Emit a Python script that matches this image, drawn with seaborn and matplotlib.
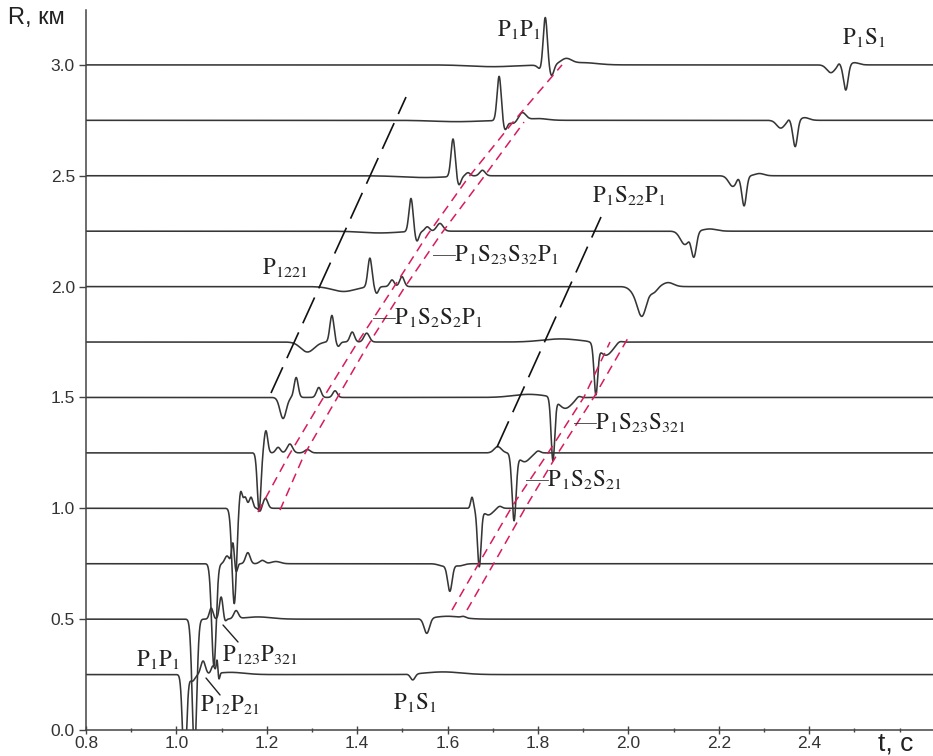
import numpy as np
import pandas as pd
import matplotlib
matplotlib.use("Agg")
import matplotlib.pyplot as plt
from matplotlib.ticker import MultipleLocator, FormatStrFormatter
import seaborn as sns

# ---- seismogram data -------------------------------------------------------
# receiver offsets R (km); each trace is drawn on its own baseline
offsets = [0.25, 0.50, 0.75, 1.00, 1.25, 1.50, 1.75, 2.00, 2.25, 2.50, 2.75, 3.00]

# wave arrivals on every trace: (time s, amplitude km, pulse half-width s)
tr_025 = [(1.018, -0.42, 0.0045), (1.035, -0.03, 0.006), (1.059, 0.06, 0.005),
          (1.081, 0.035, 0.004), (1.090, 0.06, 0.0018), (1.094, -0.03, 0.002),
          (1.12, 0.01, 0.03), (1.523, -0.027, 0.005), (1.59, 0.012, 0.04)]
tr_050 = [(1.040, -0.60, 0.005), (1.077, 0.05, 0.004), (1.099, 0.10, 0.004),
          (1.107, -0.015, 0.003), (1.132, 0.036, 0.005), (1.18, 0.01, 0.03),
          (1.554, -0.068, 0.006), (1.60, 0.013, 0.03), (1.635, 0.006, 0.005)]
tr_075 = [(1.083, -0.46, 0.005), (1.112, 0.035, 0.005), (1.125, 0.095, 0.003),
          (1.132, -0.04, 0.003), (1.158, 0.05, 0.005), (1.19, 0.015, 0.006),
          (1.22, 0.01, 0.01), (1.59, -0.01, 0.01), (1.605, -0.12, 0.005),
          (1.625, -0.01, 0.01)]
tr_100 = [(1.128, -0.43, 0.005), (1.142, 0.08, 0.0035), (1.152, 0.05, 0.004),
          (1.165, 0.05, 0.004), (1.185, -0.015, 0.003), (1.197, 0.045, 0.005),
          (1.654, 0.05, 0.003), (1.670, -0.26, 0.004), (1.69, -0.03, 0.01),
          (1.715, 0.01, 0.005)]
tr_125 = [(1.183, -0.26, 0.004), (1.198, 0.10, 0.004), (1.225, 0.025, 0.005),
          (1.251, 0.04, 0.006), (1.29, 0.015, 0.006), (1.711, 0.028, 0.008),
          (1.747, -0.30, 0.0045), (1.77, -0.04, 0.012), (1.80, 0.01, 0.005)]
tr_150 = [(1.236, -0.095, 0.007), (1.265, 0.09, 0.0045), (1.315, 0.045, 0.005),
          (1.351, 0.03, 0.005), (1.78, 0.014, 0.035), (1.833, -0.28, 0.004),
          (1.86, -0.05, 0.015), (1.89, 0.01, 0.005)]
tr_175 = [(1.29, -0.045, 0.015), (1.344, 0.12, 0.0045), (1.358, -0.02, 0.004),
          (1.389, 0.045, 0.005), (1.421, 0.04, 0.006), (1.85, 0.014, 0.04),
          (1.928, -0.22, 0.004), (1.95, -0.06, 0.015), (1.98, 0.008, 0.006)]
tr_200 = [(1.37, -0.022, 0.025), (1.428, 0.13, 0.0045), (1.443, -0.03, 0.004),
          (1.477, 0.03, 0.005), (1.499, 0.045, 0.005), (2.012, -0.02, 0.01),
          (2.030, -0.13, 0.010), (2.056, -0.025, 0.008), (2.088, 0.018, 0.012)]
tr_225 = [(1.45, -0.008, 0.04), (1.519, 0.15, 0.0045), (1.532, -0.045, 0.0045),
          (1.555, 0.02, 0.005), (1.583, 0.035, 0.007), (2.125, -0.06, 0.01),
          (2.135, 0.006, 0.003), (2.145, -0.11, 0.0055), (2.18, 0.01, 0.015)]
tr_250 = [(1.55, -0.008, 0.05), (1.612, 0.17, 0.0045), (1.625, -0.04, 0.0045),
          (1.645, 0.015, 0.005), (1.677, 0.025, 0.006), (2.231, -0.048, 0.009),
          (2.242, 0.008, 0.003), (2.256, -0.135, 0.005), (2.29, 0.01, 0.01)]
tr_275 = [(1.62, -0.006, 0.05), (1.714, 0.20, 0.0045), (1.727, -0.04, 0.0045),
          (1.745, -0.015, 0.01), (1.765, 0.035, 0.008), (1.80, 0.008, 0.02),
          (2.337, -0.035, 0.009), (2.355, 0.008, 0.003), (2.369, -0.12, 0.005),
          (2.39, 0.012, 0.01)]
tr_300 = [(1.70, -0.008, 0.05), (1.806, -0.02, 0.006), (1.816, 0.22, 0.0045),
          (1.830, -0.05, 0.005), (1.862, 0.025, 0.012), (1.90, 0.01, 0.03),
          (2.448, -0.035, 0.009), (2.466, 0.010, 0.003), (2.481, -0.115, 0.005),
          (2.50, 0.01, 0.01)]
traces = [tr_025, tr_050, tr_075, tr_100, tr_125, tr_150,
          tr_175, tr_200, tr_225, tr_250, tr_275, tr_300]

# travel-time correlation lines (t s, R km)
p1221_line = ([1.2093, 1.5080], [1.520, 2.855])
p1s22p1_line = ([1.7093, 1.9394], [1.276, 2.314])
s2s2_line_t = [1.1805, 1.2491, 1.3221, 1.3973, 1.4770, 1.5566, 1.6451, 1.7447, 1.8531]
s2s2_line_r = [0.983, 1.240, 1.489, 1.737, 1.985, 2.237, 2.490, 2.742, 3.000]
s23_line_t = [1.2292, 1.2823, 1.3531, 1.4239, 1.5013, 1.5854, 1.6783, 1.7690]
s23_line_r = [0.992, 1.240, 1.489, 1.737, 1.985, 2.237, 2.490, 2.742]
s2s21_line_t = [1.6097, 1.6695, 1.7447, 1.8221, 1.9018, 1.9593]
s2s21_line_r = [0.541, 0.753, 1.015, 1.249, 1.502, 1.750]
s23s321_line_t = [1.6429, 1.7027, 1.7757, 1.8442, 1.9239, 1.9991]
s23s321_line_r = [0.541, 0.753, 1.015, 1.249, 1.502, 1.768]

# ---- build the traces ------------------------------------------------------
t = np.arange(0.80, 2.68, 0.0004)
rows = []
for r0, ev in zip(offsets, traces):
    y = np.full_like(t, r0)
    for t0, a, s in ev:
        y += a * np.exp(-0.5 * ((t - t0) / s) ** 2)
    rows.append(pd.DataFrame({"t": t, "y": y, "R": r0}))
df = pd.concat(rows, ignore_index=True)

sns.set_theme(style="ticks")
plt.rcParams["mathtext.fontset"] = "stix"
plt.rcParams["font.family"] = ["Liberation Sans", "DejaVu Sans"]

fig = plt.figure(figsize=(9.33, 7.56), dpi=100)
ax = fig.add_axes([86 / 933, 26 / 756, 847 / 933, 720 / 756])

sns.lineplot(data=df, x="t", y="y", units="R", estimator=None, sort=False,
             color="#363636", linewidth=1.15, legend=False, ax=ax)

# black long-dashed guide lines
for xs, ys in (p1221_line, p1s22p1_line):
    ax.plot(xs, ys, color="#111111", lw=1.2, linestyle=(0, (17, 6)))

# red short-dashed guide lines
red = "#d81b60"
for xs, ys in ((s2s2_line_t, s2s2_line_r), (s23_line_t, s23_line_r),
               (s2s21_line_t, s2s21_line_r), (s23s321_line_t, s23s321_line_r)):
    ax.plot(xs, ys, color=red, lw=1.1, linestyle=(0, (6, 4)))

# phase labels
lab = dict(fontsize=16.5, color="#222222", family="STIXGeneral")
ax.text(1.758, 3.157, r"$\mathrm{P_1P_1}$", ha="center", va="center", **lab)
ax.text(2.521, 3.121, r"$\mathrm{P_1S_1}$", ha="center", va="center", **lab)
ax.text(2.001, 2.409, r"$\mathrm{P_1S_{22}P_1}$", ha="center", va="center", **lab)
ax.text(1.240, 2.084, r"$\mathrm{P_{1221}}$", ha="center", va="center", **lab)
ax.text(1.5655, 2.143, r"—$\mathrm{P_1S_{23}S_{32}P_1}$", ha="left", va="center", **lab)
ax.text(1.4327, 1.858, r"—$\mathrm{P_1S_2S_2P_1}$", ha="left", va="center", **lab)
ax.text(1.8774, 1.385, r"—$\mathrm{P_1S_{23}S_{321}}$", ha="left", va="center", **lab)
ax.text(1.771, 1.128, r"—$\mathrm{P_1S_2S_{21}}$", ha="left", va="center", **lab)
ax.text(0.959, 0.316, r"$\mathrm{P_1P_1}$", ha="center", va="center", **lab)
ax.text(1.101, 0.338, r"$\mathrm{P_{123}P_{321}}$", ha="left", va="center", **lab)
ax.text(1.052, 0.113, r"$\mathrm{P_{12}P_{21}}$", ha="left", va="center", **lab)
ax.text(1.528, 0.122, r"$\mathrm{P_1S_1}$", ha="center", va="center", **lab)
ax.plot([1.1031, 1.1363], [0.4736, 0.3969], color="#222222", lw=1.0)
ax.plot([1.0655, 1.0965], [0.2345, 0.158], color="#222222", lw=1.0)

# axes
ax.set_xlim(0.8, 0.8 + 847 / 452)
ax.set_ylim(0.0, 720 / 221.7)
ax.set_xticks([0.8, 1.0, 1.2, 1.4, 1.6, 1.8, 2.0, 2.2, 2.4])
ax.xaxis.set_minor_locator(MultipleLocator(0.1))
ax.yaxis.set_major_locator(MultipleLocator(0.5))
ax.xaxis.set_major_formatter(FormatStrFormatter("%.1f"))
ax.yaxis.set_major_formatter(FormatStrFormatter("%.1f"))
ax.tick_params(axis="x", which="major", direction="inout", length=6, width=1,
               color="#444444", labelsize=12.5, labelcolor="#333333", pad=1)
ax.tick_params(axis="x", which="minor", direction="inout", length=3, width=1,
               color="#444444")
ax.tick_params(axis="y", which="major", direction="out", length=5, width=1,
               color="#444444", labelsize=12.5, labelcolor="#333333", pad=3)
for side in ("top", "right"):
    ax.spines[side].set_visible(False)
for side in ("left", "bottom"):
    ax.spines[side].set_color("#444444")
    ax.spines[side].set_linewidth(1.1)
ax.set_xlabel("")
ax.set_ylabel("")
fig.text(8 / 933, 1 - 18 / 756, "R, км", fontsize=17, color="#222222",
         ha="left", va="center")
fig.text(878 / 933, 1 - 743 / 756, "t, c", fontsize=19, color="#222222",
         ha="left", va="center")

fig.savefig("out.png", dpi=100)
